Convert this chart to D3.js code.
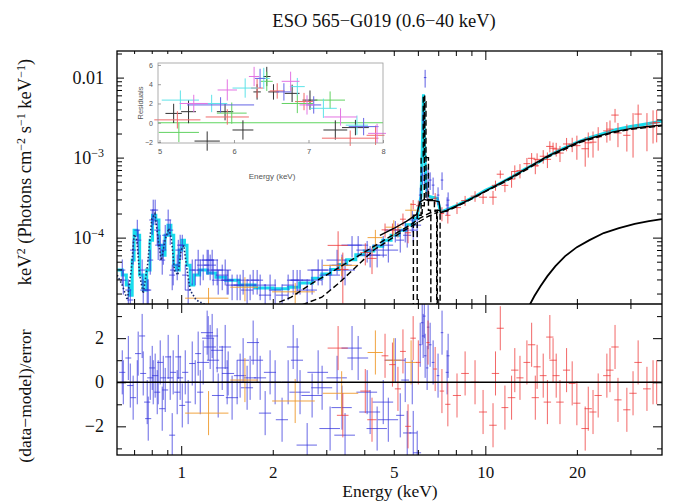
<!DOCTYPE html>
<html>
<head>
<meta charset="utf-8">
<script src="https://cdn.jsdelivr.net/npm/d3@7"></script>
<style>
body { margin: 0; background: #fff; }
svg { display: block; font-family: "Liberation Serif", "Times New Roman", serif; }
.ax path { display: none; }
.ax line { stroke: #000; stroke-width: 1; }
.iax path { display: none; }
.iax line { stroke: #888; stroke-width: 0.8; }
</style>
</head>
<body>
<svg id="chart" width="685" height="504"></svg>
<script>
// ---- tick values ----
var xMajor = [1, 10];
var xMinor = [0.7, 0.8, 0.9, 2, 3, 4, 5, 6, 7, 8, 9, 20, 30];
var xLabels = [1, 2, 5, 10, 20];
var yMajor = [1e-4, 1e-3, 1e-2];
var yMinor = [2e-5, 3e-5, 4e-5, 5e-5, 6e-5, 7e-5, 8e-5, 9e-5, 2e-4, 3e-4, 4e-4, 5e-4, 6e-4, 7e-4, 8e-4, 9e-4,
              2e-3, 3e-3, 4e-3, 5e-3, 6e-3, 7e-3, 8e-3, 9e-3, 2e-2];
var resMajor = [-2, 0, 2];
var resMinor = [-3, -1, 1, 3];
var insetXTicks = [5, 6, 7, 8];
var insetYTicks = [-2, 0, 2, 4, 6];

// ---- blue data (soft X-ray) ----
var blueE = [0.640,0.645,0.670,0.680,0.695,0.717,0.722,0.744,0.750,0.773,
  0.779,0.791,0.803,0.809,0.821,0.834,0.840,0.853,0.866,0.873,
  0.886,0.906,0.920,0.934,0.941,0.970,0.978,0.992,1.008,1.031,
  1.054,1.087,1.112,1.137,1.155,1.181,1.217,1.227,1.245,1.264,
  1.274,1.313,1.323,1.364,1.395,1.416,1.427,1.470,1.527,1.562,
  1.598,1.647,1.685,1.724,1.777,1.818,1.888,1.960,2.036,2.146,
  2.247,2.334,2.405,2.459,2.595,2.694,2.820,2.906,3.087,3.255,
  3.378,3.457,3.645,3.818,4.087,4.180,4.408,4.616,4.797,5.057,
  5.251,5.452,5.535,5.750,5.793,5.970,6.108,6.200,6.246,6.340,
  6.300,6.436,6.485,6.584,6.735,6.991,7.205,7.488,7.545];
var blueW = [0.015,0.015,0.015,0.016,0.016,0.016,0.017,0.017,0.017,0.018,
  0.018,0.018,0.018,0.019,0.019,0.019,0.019,0.020,0.020,0.020,
  0.020,0.021,0.021,0.021,0.022,0.022,0.022,0.023,0.023,0.024,
  0.024,0.025,0.026,0.026,0.027,0.054,0.056,0.056,0.057,0.058,
  0.059,0.060,0.061,0.063,0.064,0.065,0.066,0.068,0.070,0.072,
  0.074,0.076,0.078,0.079,0.082,0.084,0.087,0.090,0.094,0.099,
  0.103,0.107,0.110,0.19,0.20,0.21,0.22,0.23,0.24,0.25,
  0.26,0.27,0.28,0.30,0.32,0.33,0.34,0.36,0.37,0.39,
  0.16,0.16,0.17,0.17,0.17,0.18,0.06,0.06,0.06,0.06,
  0.06,0.06,0.06,0.07,0.07,0.07,0.07,0.08,0.08];
var blueF = [3.93e-5,2.94e-5,2.21e-5,1.66e-5,6.98e-5,1.24e-4,9.3e-5,3.93e-5,2.21e-5,2.21e-5,
  2.21e-5,5.24e-5,1.66e-4,2.21e-4,2.21e-4,1.24e-4,8.05e-5,8.05e-5,5.24e-5,6.98e-5,
  1.07e-4,1.66e-4,1.24e-4,3.40e-5,3.93e-5,4.53e-5,6.98e-5,8.05e-5,8.05e-5,3.40e-5,
  2.21e-5,3.93e-5,3.93e-5,5.24e-5,3.93e-5,4.53e-5,5.24e-5,5.24e-5,4.53e-5,5.24e-5,
  3.93e-5,3.93e-5,2.94e-5,3.40e-5,3.93e-5,2.94e-5,2.94e-5,2.55e-5,2.55e-5,2.55e-5,
  2.94e-5,2.21e-5,2.55e-5,2.94e-5,2.94e-5,2.55e-5,1.91e-5,2.55e-5,2.21e-5,1.91e-5,
  2.55e-5,2.94e-5,2.94e-5,2.94e-5,2.21e-5,2.94e-5,3.93e-5,3.93e-5,3.40e-5,5.24e-5,
  4.53e-5,3.93e-5,8.05e-5,8.05e-5,6.98e-5,6.04e-5,6.04e-5,8.05e-5,6.98e-5,1.24e-4,
  9.3e-5,1.24e-4,1.07e-4,1.66e-4,1.24e-4,1.43e-4,3.40e-4,6.04e-4,2.94e-3,1.0e-2,
  5.24e-4,3.93e-4,6.04e-4,5.24e-4,4.53e-4,3.40e-4,5.24e-4,2.55e-4,2.94e-4];
var blueFErr = [1.4e-5,1.0e-5,0.8e-5,0.6e-5,2.4e-5,4.3e-5,3.2e-5,1.4e-5,0.8e-5,0.8e-5,
  0.8e-5,1.8e-5,5.8e-5,7.7e-5,7.7e-5,4.3e-5,2.8e-5,2.8e-5,1.8e-5,2.4e-5,
  3.7e-5,5.8e-5,4.3e-5,1.2e-5,1.4e-5,1.6e-5,2.4e-5,2.8e-5,2.8e-5,1.2e-5,
  0.8e-5,1.4e-5,1.4e-5,1.8e-5,1.4e-5,1.6e-5,1.8e-5,1.8e-5,1.6e-5,1.8e-5,
  1.4e-5,1.4e-5,1.0e-5,1.2e-5,1.4e-5,1.0e-5,1.0e-5,0.9e-5,0.9e-5,0.9e-5,
  1.0e-5,0.8e-5,0.9e-5,1.0e-5,1.0e-5,0.9e-5,0.7e-5,0.9e-5,0.8e-5,0.7e-5,
  0.9e-5,1.0e-5,1.0e-5,1.0e-5,0.8e-5,1.0e-5,1.4e-5,1.4e-5,1.2e-5,1.8e-5,
  1.6e-5,1.4e-5,2.4e-5,2.4e-5,2.1e-5,1.8e-5,1.8e-5,2.4e-5,2.1e-5,3.7e-5,
  2.8e-5,3.7e-5,3.2e-5,5.0e-5,3.7e-5,4.3e-5,8.0e-5,1.5e-4,8.0e-4,2.5e-3,
  1.3e-4,1.0e-4,1.5e-4,1.3e-4,1.1e-4,8.5e-5,1.3e-4,6.4e-5,7.3e-5];
var blueRes = [0.45,0,1.1,-0.15,-0.7,0,1.3,2.1,0.4,-0.9,
  -1.65,0.2,0.65,0,0.3,-0.45,0,0.9,-1.2,0.2,
  -0.35,1.15,0.2,-2.4,0.45,-0.45,1.15,0.2,-1.05,0.45,
  -0.9,0.85,0,1.3,-0.45,0.9,2.25,2.0,1.6,2.1,
  1.0,1.45,-0.6,0.65,1.6,0,0.4,-0.7,0,0.3,
  1.0,-0.25,0.2,1.8,1.0,0.2,-1.4,0.45,0,-1.7,
  0,1.6,1.0,-0.45,-2.85,-0.6,0.45,-0.25,-2.1,0.2,
  -1.15,-2.4,1.55,1.1,-0.45,-1.35,-2.1,-0.9,-1.7,1.0,
  -1.5,0.1,-2.3,0,-2.3,-3.2,1.7,2.7,2.1,1.2,
  3.0,0.65,2.5,1.7,0.9,0.3,2.25,0.45,1.2];

// ---- orange data ----
var orangeE = [1.23, 1.62, 2.37, 3.37, 4.35, 5.0, 5.7];
var orangeW = [0.2, 0.17, 0.38, 0.45, 0.25, 0.3, 0.25];
var orangeF = [1.75e-5, 2.4e-5, 2.1e-5, 4.5e-5, 1.0e-4, 1.35e-4, 2.2e-4];
var orangeFErr = [0.6e-5, 0.8e-5, 0.6e-5, 1.2e-5, 2.5e-5, 3e-5, 5e-5];
var orangeRes = [-1.4, 0.1, -0.85, -0.5, 1.35, 1.0, 0.9];

// ---- red data (hard X-ray) ----
var redE = [3.28,3.40,4.03,4.24,4.68,4.95,5.16,5.36,5.57,5.79,
  6.02,6.48,6.84,7.20,7.53,8.07,8.58,9.25,9.83,10.6,
  10.8,11.2,11.6,12.2,12.5,13.0,13.7,14.2,14.6,14.8,
  15.5,16.0,16.3,16.7,17.1,17.6,18.5,19.3,20.0,21.3,
  21.8,22.6,23.5,25.1,25.7,26.7,27.3,29.2,30.6,31.8,
  34.0,35.6,36.6];
var redW = [0.25,0.15,0.15,0.15,0.12,0.12,0.12,0.12,0.12,0.12,
  0.1,0.08,0.1,0.12,0.15,0.25,0.25,0.3,0.3,0.3,
  0.3,0.3,0.3,0.35,0.35,0.35,0.35,0.4,0.4,0.4,
  0.4,0.45,0.45,0.45,0.45,0.5,0.5,0.5,0.55,0.6,
  0.6,0.6,0.65,0.7,0.7,0.75,0.75,0.8,0.85,0.9,
  1.0,1.0,1.0];
var redF = [8e-5,4.0e-5,6.5e-5,5.5e-5,1.25e-4,1.25e-4,1.25e-4,1.7e-4,1.15e-4,2.6e-4,
  2.5e-4,3.6e-4,3.1e-4,2.0e-4,1.9e-4,2.37e-4,2.9e-4,3.3e-4,3.2e-4,3.2e-4,
  4.5e-4,6.2e-4,4.5e-4,5.4e-4,6.7e-4,6.9e-4,8.4e-4,9.8e-4,7.9e-4,9.5e-4,
  1.04e-3,9.5e-4,1.38e-3,1.31e-3,1.28e-3,1.14e-3,1.48e-3,1.47e-3,1.41e-3,1.29e-3,
  1.53e-3,1.56e-3,1.81e-3,2.16e-3,2.27e-3,3.4e-3,2.03e-3,1.9e-3,2.3e-3,3.5e-3,
  2.4e-3,2.7e-3,2.75e-3];
var redFErr = [4e-5,2.5e-5,2e-5,2e-5,2.5e-5,2.5e-5,2.5e-5,3e-5,3e-5,3.5e-5,
  4e-5,5e-5,5e-5,4e-5,4e-5,4e-5,4.2e-5,5e-5,5.7e-5,6.3e-5,
  6.5e-5,7.2e-5,8e-5,1.2e-4,1.3e-4,1.4e-4,1.5e-4,1.6e-4,1.7e-4,1.8e-4,
  2.0e-4,2.1e-4,2.2e-4,2.3e-4,2.5e-4,2.6e-4,2.8e-4,3.0e-4,4.7e-4,5.2e-4,
  5.3e-4,5.6e-4,5.9e-4,6.2e-4,6.4e-4,6.6e-4,6.8e-4,7.1e-4,1.3e-3,1.1e-3,
  1.2e-3,1.2e-3,1.2e-3];
var redRes = [1.55,-1.5,-0.4,-1.7,1.2,0.8,-0.3,1.4,-2.0,2.0,
  0.9,1.8,0.6,-0.4,-1.0,-0.6,0.4,0,-1.35,-1.95,
  0.4,2.45,-1.15,-0.7,0.55,0.2,0.9,1.7,-0.7,0.7,
  0.3,-0.9,2.05,1.0,0.3,-0.9,0.55,-0.05,-0.95,-2.1,
  -1.2,-1.35,-0.6,0.3,0.55,1.6,-0.8,-1.25,-0.5,0.9,
  -0.3,0,0];

// ---- model curves [energy keV, flux] ----
var cyanModel = [[0.616,3.93e-5],[0.64,3.4e-5],[0.66,2.55e-5],[0.675,1.91e-5],[0.69,5.24e-5],[0.70,1.24e-4],
  [0.715,1.07e-4],[0.73,3.4e-5],[0.75,2.21e-5],[0.77,3.93e-5],[0.79,9.3e-5],[0.805,1.91e-4],[0.825,1.66e-4],
  [0.845,8.05e-5],[0.865,6.04e-5],[0.885,1.07e-4],[0.905,1.43e-4],[0.925,1.07e-4],[0.945,4.53e-5],
  [0.965,3.93e-5],[0.985,6.98e-5],[1.005,9.3e-5],[1.025,8.05e-5],[1.045,4.53e-5],[1.07,2.55e-5],[1.1,3.4e-5],
  [1.15,3.93e-5],[1.22,3.6e-5],[1.3,3.2e-5],[1.4,2.94e-5],[1.55,2.55e-5],[1.75,2.35e-5],[2.0,2.3e-5],
  [2.25,2.4e-5],[2.45,2.7e-5],[2.7,3.1e-5],[2.9,3.5e-5],[3.1,4.0e-5],[3.3,4.6e-5],[3.5,5.3e-5],[3.75,6.1e-5],
  [4.0,6.8e-5],[4.3,7.8e-5],[4.6,9.3e-5],[4.9,1.07e-4],[5.2,1.24e-4],[5.5,1.45e-4],[5.8,1.75e-4],[6.0,2.1e-4],
  [6.15,3.3e-4],[6.22,2.0e-3],[6.26,6.2e-3],[6.31,1.5e-3],[6.38,4.5e-4],[6.48,3.3e-4],[6.7,3.2e-4],
  [6.95,3.1e-4],[7.08,2.3e-4],[7.15,2.1e-4],[7.5,2.25e-4],[8.0,2.5e-4],[8.6,2.85e-4],[9.3,3.3e-4],[10,3.9e-4],
  [11,4.6e-4],[12.3,5.8e-4],[13.5,7.2e-4],[15,8.8e-4],[16.5,1.1e-3],[18,1.3e-3],[20,1.55e-3],[22,1.78e-3],
  [24.5,2.0e-3],[27,2.25e-3],[30,2.45e-3],[33,2.6e-3],[36,2.75e-3],[38.1,2.85e-3]];
var totalModel = [[4.5,1.07e-4],[5.0,1.3e-4],[5.5,1.6e-4],[5.95,1.95e-4],[6.1,2.8e-4],[6.3,3.0e-4],[6.5,2.9e-4],
  [6.8,2.9e-4],[7.05,2.8e-4],[7.12,2.05e-4],[7.5,2.2e-4],[8.5,2.75e-4],[10,3.8e-4],[12.3,5.8e-4],[15.9,1.03e-3],
  [20.5,1.6e-3],[26.3,2.1e-3],[30,2.3e-3],[34,2.45e-3],[38.1,2.55e-3]];
var reflModel = [[14.0,1.45e-5],[14.5,1.86e-5],[15.2,2.48e-5],[16.0,3.3e-5],[17.0,4.4e-5],[18.3,5.87e-5],
  [20.0,7.6e-5],[22.0,9.3e-5],[24.5,1.14e-4],[27.5,1.31e-4],[31.0,1.48e-4],[34.5,1.61e-4],[38.1,1.70e-4]];
var plawA = [[2.1,1.56e-5],[2.3,1.8e-5],[2.7,2.7e-5],[3.2,3.93e-5],[3.9,6.2e-5],[4.8,1.0e-4],[5.6,1.4e-4],
  [6.1,1.75e-4],[6.5,2.0e-4],[7.0,2.2e-4],[7.2,2.1e-4],[7.5,2.15e-4],[8.5,2.7e-4],[10,3.75e-4],[12.3,5.6e-4],
  [15.9,1.0e-3],[20.5,1.55e-3],[26.3,2.05e-3],[30,2.25e-3],[38.1,2.5e-3]];
var plawB = [[2.5,1.45e-5],[2.9,1.8e-5],[3.3,2.7e-5],[4.3,7.0e-5],[5.3,1.17e-4],[6.0,1.55e-4],[6.5,1.85e-4],[7.0,2.1e-4]];
var feLineA = [[5.78,1.3e-5],[5.80,1.9e-4],[6.15,1.0e-3],[6.25,6.0e-3],[6.32,1.0e-3],[6.5,2.2e-4],[6.6,2.0e-4],[6.62,1.3e-5]];
var feLineB = [[5.95,1.3e-5],[5.97,2.0e-4],[6.2,2.5e-4],[6.3,5.0e-3],[6.38,3.0e-4],[6.8,2.2e-4],[6.95,1.3e-5],[7.0,1.3e-5]];
var feLineC = [[6.9,1.3e-5],[6.92,2.0e-4],[7.08,2.0e-4],[7.1,1.3e-5]];
var softLines = [[0.616,3.4e-5],[0.64,2.55e-5],[0.665,1.66e-5],[0.685,3.9e-5],[0.70,1.1e-4],[0.715,9.3e-5],
  [0.73,3.4e-5],[0.75,2.0e-5],[0.775,4.5e-5],[0.80,1.7e-4],[0.82,2.0e-4],[0.84,9.3e-5],[0.86,5.2e-5],
  [0.885,9.3e-5],[0.91,1.3e-4],[0.93,9.3e-5],[0.95,3.9e-5],[0.975,3.4e-5],[1.0,7.0e-5],[1.02,8.0e-5],
  [1.04,4.5e-5],[1.07,2.2e-5],[1.12,1.66e-5],[1.2,1.45e-5]];

// ---- inset residuals 5-8 keV [E, dE, residual, error] ----
var insetBlack = [[5.19,0.11,0.97,1.0],[5.39,0.1,1.15,1.2],[5.64,0.17,-1.9,1.0],[5.88,0.11,1.15,0.9],
  [6.12,0.14,-0.75,1.0],[6.31,0.05,3.2,0.8],[6.44,0.05,4.8,1.0],[6.53,0.07,3.2,0.8],[6.78,0.1,3.05,0.9],
  [7.02,0.1,2.35,1.0],[7.36,0.16,-0.75,1.0],[7.63,0.18,-0.5,0.8]];
var insetRed = [[5.24,0.31,0.3,0.9],[5.91,0.29,0.6,0.8],[6.31,0.08,3.6,1.0],[6.58,0.1,3.3,0.8],
  [6.94,0.12,2.2,0.9],[7.56,0.38,-1.6,0.8],[7.9,0.12,-1.3,1.0]];
var insetGreen = [[5.26,0.27,-1.0,1.0],[5.97,0.2,1.0,1.1],[6.44,0.08,4.3,1.0],[6.85,0.21,2.0,1.0],[7.29,0.2,2.35,0.9]];
var insetCyan = [[5.28,0.25,2.35,1.0],[5.7,0.21,2.0,0.9],[6.15,0.17,3.6,1.0],[6.4,0.08,4.6,1.1],
  [6.85,0.1,3.75,0.9],[7.2,0.18,1.5,1.0],[7.65,0.15,-0.25,1.0]];
var insetBlue = [[5.82,0.45,1.85,0.8],[6.35,0.07,4.6,1.0],[6.67,0.1,3.2,0.9],[7.07,0.1,1.85,0.9],[7.74,0.2,-0.4,0.9]];
var insetMagenta = [[5.46,0.19,2.0,0.9],[5.91,0.13,3.4,1.1],[6.27,0.07,4.8,1.0],[6.76,0.12,4.3,1.0],
  [6.98,0.1,1.85,1.0],[7.43,0.22,0.6,0.9],[7.92,0.12,-1.1,1.0]];

(function(){
  'use strict';

  var svg = d3.select('#chart');
  var L = 117, R = 662, T = 51, MID = 304, B = 455;

  var x = d3.scaleLog().domain([0.615, 38.1]).range([L, R]);
  var yTop = d3.scaleLog().domain([1.48e-5, 0.0215]).range([MID, T]);
  var yRes = d3.scaleLinear().domain([-3.3, 3.55]).range([B, MID]);

  var defs = svg.append('defs');
  defs.append('clipPath').attr('id', 'clipTop')
    .append('rect').attr('x', L).attr('y', T).attr('width', R - L).attr('height', MID - T);
  defs.append('clipPath').attr('id', 'clipRes')
    .append('rect').attr('x', L).attr('y', MID).attr('width', R - L).attr('height', B - MID);

  var top = svg.append('g').attr('clip-path', 'url(#clipTop)');
  var res = svg.append('g').attr('clip-path', 'url(#clipRes)');

  // error-bar crosses; floor keeps the lower end positive on the log axis
  function crosses(g, E, W, V, Ve, ys, color, op, floor) {
    g.append('g').selectAll('path')
      .data(E)
      .join('path')
      .attr('d', function(e, i) {
        var yc = ys(V[i]);
        var lowV = V[i] - Ve[i];
        if (floor !== undefined) lowV = Math.max(lowV, floor);
        var lo = ys(lowV);
        var hi = ys(V[i] + Ve[i]);
        return 'M' + x(e - W[i]) + ',' + yc + 'H' + x(e + W[i]) + 'M' + x(e) + ',' + lo + 'V' + hi;
      })
      .attr('fill', 'none')
      .attr('stroke', color)
      .attr('stroke-opacity', op)
      .attr('stroke-width', 1);
  }

  function modelLine(g, pts, color, w, dash, curve) {
    g.append('path')
      .datum(pts)
      .attr('d', d3.line().x(function(d){ return x(d[0]); }).y(function(d){ return yTop(d[1]); }).curve(curve))
      .attr('fill', 'none')
      .attr('stroke', color)
      .attr('stroke-width', w)
      .attr('stroke-dasharray', dash);
  }

  // top panel
  var cyanSoft = cyanModel.filter(function(d){ return d[0] <= 6.0; });
  var cyanHard = cyanModel.filter(function(d){ return d[0] >= 6.0; });
  modelLine(top, cyanSoft, '#19dced', 3, null, d3.curveStepAfter);
  modelLine(top, cyanHard, '#19dced', 3, null, d3.curveLinear);
  crosses(top, blueE, blueW, blueF, blueFErr, yTop, '#3434dc', 0.8, 1e-8);
  crosses(top, orangeE, orangeW, orangeF, orangeFErr, yTop, '#f09a2c', 0.9, 1e-8);
  crosses(top, redE, redW, redF, redFErr, yTop, '#ee3636', 0.8, 1e-8);
  modelLine(top, softLines, '#1b2c6e', 1.6, '1.5,2', d3.curveLinear);
  modelLine(top, plawA, '#000', 1.4, '6,3', d3.curveLinear);
  modelLine(top, plawB, '#000', 1.4, '6,3', d3.curveLinear);
  modelLine(top, feLineA, '#000', 1.4, '6,3', d3.curveStepAfter);
  modelLine(top, feLineB, '#000', 1.4, '6,3', d3.curveStepAfter);
  modelLine(top, feLineC, '#000', 1.4, '6,3', d3.curveStepAfter);
  modelLine(top, totalModel, '#000', 1.4, null, d3.curveLinear);
  modelLine(top, reflModel, '#000', 1.8, null, d3.curveLinear);

  // residual panel
  var one = function() { return 1; };
  crosses(res, blueE, blueW, blueRes, blueE.map(one), yRes, '#3434dc', 0.75);
  crosses(res, orangeE, orangeW, orangeRes, orangeE.map(one), yRes, '#f09a2c', 0.9);
  crosses(res, redE, redW, redRes, redE.map(one), yRes, '#ee3636', 0.75);
  res.append('line')
    .attr('x1', L).attr('x2', R).attr('y1', yRes(0)).attr('y2', yRes(0))
    .attr('stroke', '#000').attr('stroke-width', 1.5);

  // axes (inward ticks on all sides)
  function xAxes(yPix, showLabels) {
    var bot = svg.append('g').attr('class', 'ax').attr('transform', 'translate(0,' + yPix + ')');
    bot.append('g').call(d3.axisBottom(x).tickValues(xMajor).tickSize(-9).tickFormat(''));
    bot.append('g').call(d3.axisBottom(x).tickValues(xMinor).tickSize(-5).tickFormat(''));
    if (showLabels) {
      bot.append('g').call(d3.axisBottom(x).tickValues(xLabels).tickSize(0).tickPadding(11).tickFormat(d3.format('d')))
        .selectAll('text').attr('font-size', 17).attr('font-family', '"Liberation Serif", serif').attr('fill', '#111');
    }
  }
  function xAxesTop(yPix) {
    var g = svg.append('g').attr('class', 'ax').attr('transform', 'translate(0,' + yPix + ')');
    g.append('g').call(d3.axisTop(x).tickValues(xMajor).tickSize(-9).tickFormat(''));
    g.append('g').call(d3.axisTop(x).tickValues(xMinor).tickSize(-5).tickFormat(''));
  }
  xAxesTop(T);
  xAxes(MID, false);
  xAxesTop(MID);
  xAxes(B, true);

  var lft = svg.append('g').attr('class', 'ax').attr('transform', 'translate(' + L + ',0)');
  lft.append('g').call(d3.axisLeft(yTop).tickValues(yMajor).tickSize(-9).tickFormat(''));
  lft.append('g').call(d3.axisLeft(yTop).tickValues(yMinor).tickSize(-5).tickFormat(''));
  lft.append('g').call(d3.axisLeft(yRes).tickValues(resMajor).tickSize(-9).tickFormat(''));
  lft.append('g').call(d3.axisLeft(yRes).tickValues(resMinor).tickSize(-5).tickFormat(''));
  var rgt = svg.append('g').attr('class', 'ax').attr('transform', 'translate(' + R + ',0)');
  rgt.append('g').call(d3.axisRight(yTop).tickValues(yMajor).tickSize(-9).tickFormat(''));
  rgt.append('g').call(d3.axisRight(yTop).tickValues(yMinor).tickSize(-5).tickFormat(''));
  rgt.append('g').call(d3.axisRight(yRes).tickValues(resMajor).tickSize(-9).tickFormat(''));
  rgt.append('g').call(d3.axisRight(yRes).tickValues(resMinor).tickSize(-5).tickFormat(''));

  // y tick labels for log axis (0.01, 10^-3, 10^-4)
  var yl = svg.append('g').attr('font-size', 18).attr('fill', '#111').attr('text-anchor', 'end');
  yl.selectAll('text').data(yMajor).join('text')
    .attr('x', 104).attr('y', function(d){ return yTop(d) + 6; })
    .each(function(d) {
      var t = d3.select(this);
      if (d >= 0.01) { t.text('0.01'); return; }
      t.append('tspan').text('10');
      t.append('tspan').attr('dy', -7).attr('font-size', 12).text('\u2212' + Math.round(-Math.log10(d)));
    });
  svg.append('g').attr('font-size', 18).attr('fill', '#111').attr('text-anchor', 'end')
    .selectAll('text').data(resMajor).join('text')
    .attr('x', 104).attr('y', function(d){ return yRes(d) + 6; })
    .text(function(d){ return d < 0 ? '\u2212' + (-d) : String(d); });

  // frames
  svg.append('rect').attr('x', L).attr('y', T).attr('width', R - L).attr('height', B - T)
    .attr('fill', 'none').attr('stroke', '#000').attr('stroke-width', 1.3);
  svg.append('line').attr('x1', L).attr('x2', R).attr('y1', MID).attr('y2', MID)
    .attr('stroke', '#000').attr('stroke-width', 1.3);

  // titles
  svg.append('text').attr('x', 384).attr('y', 27).attr('text-anchor', 'middle')
    .attr('font-size', 18.5).attr('fill', '#111').text('ESO 565\u2212G019 (0.6\u221240 keV)');
  svg.append('text').attr('x', 390).attr('y', 497).attr('text-anchor', 'middle')
    .attr('font-size', 17.5).attr('fill', '#111').text('Energy (keV)');
  var yt = svg.append('text').attr('transform', 'translate(31,172) rotate(-90)')
    .attr('text-anchor', 'middle').attr('font-size', 18.5).attr('fill', '#111');
  yt.append('tspan').text('keV');
  yt.append('tspan').attr('dy', -6).attr('font-size', 12).text('2');
  yt.append('tspan').attr('dy', 6).text(' (Photons cm');
  yt.append('tspan').attr('dy', -6).attr('font-size', 12).text('\u22122');
  yt.append('tspan').attr('dy', 6).text(' s');
  yt.append('tspan').attr('dy', -6).attr('font-size', 12).text('\u22121');
  yt.append('tspan').attr('dy', 6).text(' keV');
  yt.append('tspan').attr('dy', -6).attr('font-size', 12).text('\u22121');
  yt.append('tspan').attr('dy', 6).text(')');
  svg.append('text').attr('transform', 'translate(31,396) rotate(-90)')
    .attr('text-anchor', 'middle').attr('font-size', 17.5).attr('fill', '#111').text('(data\u2212model)/error');

  // ---- inset ----
  var ix = d3.scaleLinear().domain([4.98, 8.0]).range([158, 383]);
  var iy = d3.scaleLinear().domain([-2.1, 6.2]).range([143, 63]);
  var ins = svg.append('g');
  ins.append('rect').attr('x', 124).attr('y', 54).attr('width', 268).attr('height', 132).attr('fill', '#fff');
  ins.append('line').attr('x1', ix(4.98)).attr('x2', ix(8.0)).attr('y1', iy(0)).attr('y2', iy(0))
    .attr('stroke', '#5fd65f').attr('stroke-width', 1.2);
  var insetSets = [[insetBlack, '#333'], [insetRed, '#f06a6a'], [insetGreen, '#62d262'],
                   [insetCyan, '#5ee3e8'], [insetBlue, '#6464e6'], [insetMagenta, '#e374e3']];
  insetSets.forEach(function(s) {
    ins.append('g').selectAll('path').data(s[0]).join('path')
      .attr('d', function(d) {
        return 'M' + ix(d[0] - d[1]) + ',' + iy(d[2]) + 'H' + ix(d[0] + d[1]) +
               'M' + ix(d[0]) + ',' + iy(d[2] - d[3]) + 'V' + iy(d[2] + d[3]);
      })
      .attr('stroke', s[1]).attr('stroke-width', 1).attr('fill', 'none');
  });
  ins.append('rect').attr('x', 158).attr('y', 63).attr('width', 225).attr('height', 80)
    .attr('fill', 'none').attr('stroke', '#999').attr('stroke-width', 0.8);
  var ib = ins.append('g').attr('class', 'iax').attr('transform', 'translate(0,143)')
    .call(d3.axisBottom(ix).tickValues(insetXTicks).tickSize(-3).tickPadding(6).tickFormat(d3.format('d')));
  ib.selectAll('text').attr('font-size', 7.5).attr('fill', '#555').attr('font-family', 'Arial, "Liberation Sans", sans-serif');
  var il = ins.append('g').attr('class', 'iax').attr('transform', 'translate(158,0)')
    .call(d3.axisLeft(iy).tickValues(insetYTicks).tickSize(-3).tickPadding(5).tickFormat(d3.format('d')));
  il.selectAll('text').attr('font-size', 7).attr('fill', '#555').attr('font-family', 'Arial, "Liberation Sans", sans-serif');
  ins.append('text').attr('x', 272).attr('y', 179).attr('text-anchor', 'middle')
    .attr('font-size', 8).attr('fill', '#555').attr('font-family', 'Arial, "Liberation Sans", sans-serif')
    .text('Energy (keV)');
  ins.append('text').attr('transform', 'translate(143,103) rotate(-90)').attr('text-anchor', 'middle')
    .attr('font-size', 7.5).attr('fill', '#555').attr('font-family', 'Arial, "Liberation Sans", sans-serif')
    .text('Residuals');
})();
</script>
</body>
</html>
